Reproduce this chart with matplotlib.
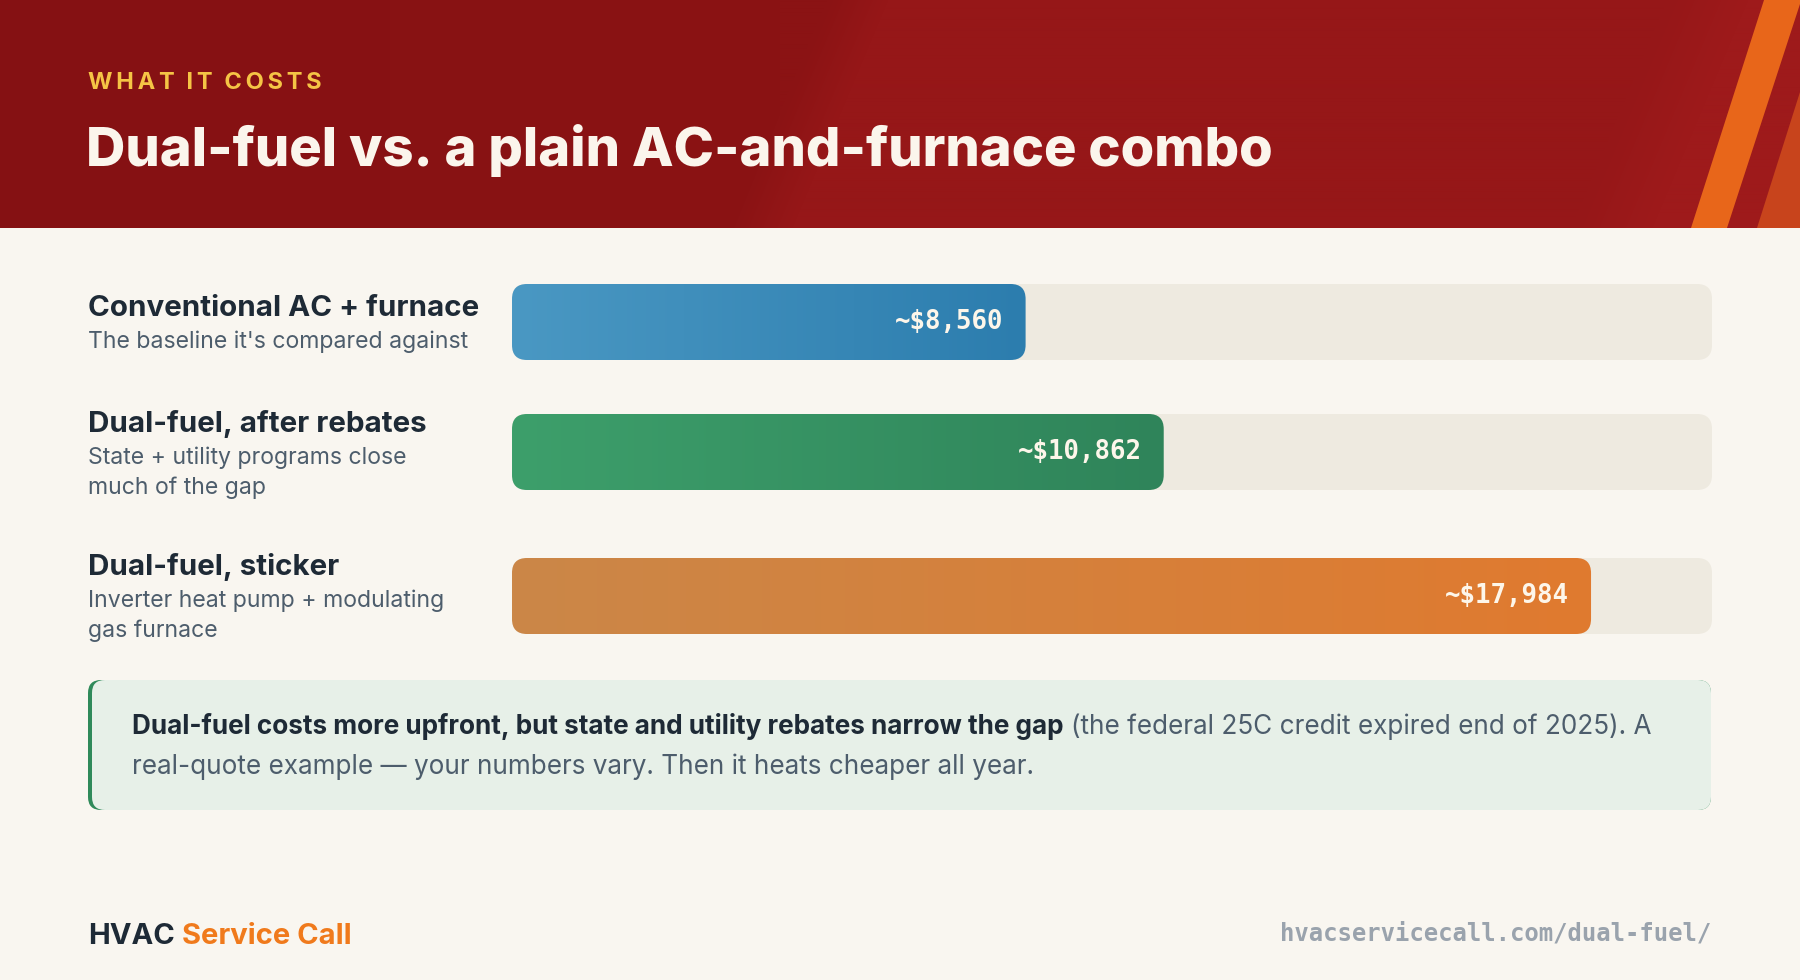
import numpy as np
import matplotlib.pyplot as plt
from matplotlib.patches import FancyBboxPatch, Polygon
from matplotlib.colors import to_rgb

W, H = 1800, 980

# Chart data
labels = ['Conventional AC + furnace', 'Dual-fuel, after rebates', 'Dual-fuel, sticker']
notes = [["The baseline it's compared against"],
         ['State + utility programs close', 'much of the gap'],
         ['Inverter heat pump + modulating', 'gas furnace']]
costs = [8560, 10862, 17984]
value_labels = ['~$8,560', '~$10,862', '~$17,984']
scale_max = 20000

# Styles / layout
bar_colors = [('#4a98c3', '#2c7dae'), ('#3d9f6b', '#2f845a'), ('#cb8748', '#e07a2f')]
row_y = [322, 452, 596]          # bar centres, px
title_base = [316, 432, 575]     # label baselines, px
BAR_H = 76
BG = '#f9f6f0'
DARK = '#1e2a36'
SUB = '#4d5d6c'
plt.rcParams['font.family'] = ['Inter', 'DejaVu Sans']

fig = plt.figure(figsize=(18, 9.8), dpi=100)
fig.patch.set_facecolor(BG)
bg = fig.add_axes([0, 0, 1, 1], zorder=0)
bg.set_xlim(0, W)
bg.set_ylim(H, 0)
bg.axis('off')
r = fig.canvas.get_renderer()

# ---- header band ----
HH = 228
yy, xx = np.mgrid[0:HH, 0:W]
t = np.clip((xx + 0.42 * (yy - HH / 2) - 780) / 60, 0, 1)
t2 = np.clip((xx + 0.42 * (yy - HH / 2) - 1620) / 80, 0, 1)
c0, c1, c2 = np.array(to_rgb('#851113')), np.array(to_rgb('#961718')), np.array(to_rgb('#9e1a1b'))
left = c0 + (np.array(to_rgb('#8b1314')) - c0) * (xx / 780.0)[..., None].clip(0, 1)
img = left * (1 - t[..., None]) + c1 * t[..., None]
img = img * (1 - t2[..., None]) + c2 * t2[..., None]
bg.imshow(img, extent=(0, W, HH, 0), aspect='auto', zorder=0, interpolation='bilinear')
bg.add_patch(Polygon([(1691, HH), (1727, HH), (1800, 4), (1800, 0), (1764, 0)],
                     closed=True, color='#e8661a', zorder=1, lw=0))
bg.add_patch(Polygon([(1757, HH), (1800, HH), (1800, 92)],
                     closed=True, color='#c8441c', zorder=1, lw=0))
bg.set_xlim(0, W)
bg.set_ylim(H, 0)

# letter-spaced kicker
kicker = '\u2009'.join('WHAT IT COSTS').replace('\u2009 \u2009', '\u2002')
bg.text(88, 89, kicker, color='#f5c445', fontsize=17, fontweight='bold',
        va='baseline', ha='left')
bg.text(86, 166, 'Dual-fuel vs. a plain AC-and-furnace combo', color='#fbf5ec',
        fontsize=39.1, fontweight='heavy', va='baseline', ha='left')

# ---- row labels ----
for lab, sub, yb in zip(labels, notes, title_base):
    bg.text(88, yb, lab, color=DARK, fontsize=21.3, fontweight='bold', va='baseline')
    for i, line in enumerate(sub):
        bg.text(88, yb + 32 + i * 30, line, color=SUB, fontsize=16.6, va='baseline')

# ---- bars ----
bx0, bx1, by0, by1 = 512, 1712, 270, 650
ax = fig.add_axes([bx0 / W, 1 - by1 / H, (bx1 - bx0) / W, (by1 - by0) / H], zorder=1)
ax.set_xlim(0, scale_max)
ax.set_ylim(by1, by0)
ax.axis('off')
xpp = scale_max / (bx1 - bx0)  # data units per pixel
rad = 15
for y, v, txt, (ca, cb) in zip(row_y, costs, value_labels, bar_colors):
    track = FancyBboxPatch((0, y - BAR_H / 2), scale_max, BAR_H,
                           boxstyle=f'round,pad=0,rounding_size={rad * xpp}',
                           mutation_aspect=1 / xpp, fc='#eeeae0', ec='none', zorder=1)
    ax.add_patch(track)
    bar = FancyBboxPatch((0, y - BAR_H / 2), v, BAR_H,
                         boxstyle=f'round,pad=0,rounding_size={rad * xpp}',
                         mutation_aspect=1 / xpp, fc='none', ec='none', zorder=2)
    ax.add_patch(bar)
    g = np.linspace(0, 1, 256)[None, :, None]
    grad = np.array(to_rgb(ca)) * (1 - g) + np.array(to_rgb(cb)) * g
    im = ax.imshow(grad, extent=(0, v, y + BAR_H / 2, y - BAR_H / 2), aspect='auto',
                   zorder=2, interpolation='bilinear')
    im.set_clip_path(bar)
    ax.annotate(txt, (v, y), xytext=(-22, 0), textcoords='offset pixels',
                ha='right', va='center', color='#fdf6ea', fontsize=18.5,
                fontweight='bold', family='DejaVu Sans Mono', zorder=3)
ax.set_xlim(0, scale_max)
ax.set_ylim(by1, by0)

# ---- callout ----
cx0, cx1, cy0, cy1 = 88, 1711, 680, 810
outer = FancyBboxPatch((cx0, cy0), cx1 - cx0, cy1 - cy0,
                       boxstyle='round,pad=0,rounding_size=13', fc='#2f8a5a', ec='none', zorder=2)
bg.add_patch(outer)
inner = FancyBboxPatch((cx0 + 4, cy0), cx1 - cx0 - 4, cy1 - cy0,
                       boxstyle='round,pad=0,rounding_size=13', fc='#e7f0e8', ec='none', zorder=3)
bg.add_patch(inner)


def space_w(fs, weight):
    a = bg.text(0, 0, 'a a', fontsize=fs, fontweight=weight)
    b = bg.text(0, 0, 'aa', fontsize=fs, fontweight=weight)
    w = a.get_window_extent(r).width - b.get_window_extent(r).width
    a.remove()
    b.remove()
    return w


fs = 18.8
t1 = bg.text(132, 734, 'Dual-fuel costs more upfront, but state and utility rebates narrow the gap',
             color=DARK, fontsize=fs, fontweight='bold', va='baseline', zorder=4)
x2 = 132 + t1.get_window_extent(r).width + space_w(fs, 'normal')
bg.text(x2, 734, '(the federal 25C credit expired end of 2025). A', color=SUB,
        fontsize=fs, va='baseline', zorder=4)
bg.text(132, 774, 'real-quote example \u2014 your numbers vary. Then it heats cheaper all year.',
        color=SUB, fontsize=fs, va='baseline', zorder=4)

# ---- footer ----
f1 = bg.text(88, 944, 'HVAC', color=DARK, fontsize=21, fontweight='bold', va='baseline')
x3 = 88 + f1.get_window_extent(r).width + space_w(21, 'bold')
bg.text(x3, 944, 'Service Call', color='#f07a1c', fontsize=21, fontweight='bold', va='baseline')
bg.text(1711, 940, 'hvacservicecall.com/dual-fuel/', color='#9aa3ad', fontsize=17.2,
        fontweight='bold', family='DejaVu Sans Mono', ha='right', va='baseline')

fig.savefig('out.png', dpi=100, facecolor=BG)
